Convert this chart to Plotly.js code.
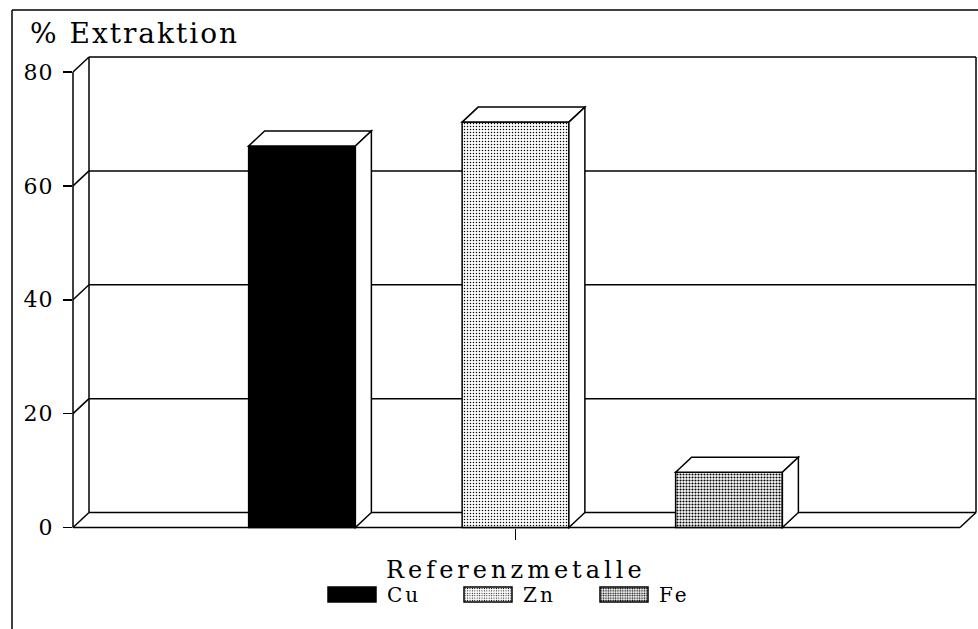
<!DOCTYPE html>
<html><head><meta charset="utf-8">
<script src="https://cdn.plot.ly/plotly-3.0.1.min.js"></script>
<style>
body{margin:0;background:#fff}
#chart{width:978px;height:629px}
.gtitle{letter-spacing:2px}
.annotation-text{letter-spacing:4px}
.legendtext{letter-spacing:3px}
.ytick text{letter-spacing:1px}
</style></head><body><div id="chart"></div>
<script>
// ---- data ----
const metals = ['Cu', 'Zn', 'Fe'];
const extraction = [67.0, 71.2, 9.7];
const yTicks = [0, 20, 40, 60, 80];
const yTickLabels = ['0', '20', '40', '60', '80'];
const xTitle = 'Referenzmetalle';
const yTitle = '% Extraktion';

// ---- geometry / style ----
const W = 978, H = 629, M = {l: 73, r: 0, t: 50, b: 84};
const plotW = W - M.l - M.r, plotH = H - M.t - M.b;
const xUnitPx = 213.5, xZeroPx = 302;
const yZeroPx = 527.5, yTopPx = 72, yTopVal = 80;
const yUnitPx = (yZeroPx - yTopPx) / yTopVal;
const xRange = [(M.l - xZeroPx) / xUnitPx, (W - M.r - xZeroPx) / xUnitPx];
const yRange = [-(H - M.b - yZeroPx) / yUnitPx, (yZeroPx - M.t) / yUnitPx];
const barW = 0.5;
const DXpx = 16, DYpx = 15;
const dx = DXpx / xUnitPx, dy = DYpx / yUnitPx;
const backRight = xRange[1] - 2 / xUnitPx;
const frontRight = backRight - dx;
const dxPaper = DXpx / plotW;
const pX = px => (px - M.l) / plotW;
const pY = py => (H - M.b - py) / plotH;
const LINE = {color: '#000', width: 1.5};

const patterns = [
  null,
  {shape: '.', bgcolor: '#fff', fgcolor: '#000', size: 3, solidity: 0.2},
  {shape: '.', bgcolor: '#fff', fgcolor: '#000', size: 3, solidity: 0.38}
];
const colors = ['#000', '#fff', '#fff'];

const traces = metals.map((m, i) => {
  const t = {
    type: 'bar', name: m, x: [i], y: [extraction[i]], width: barW,
    marker: {color: colors[i], line: {color: '#000', width: 1.5}},
    hoverinfo: 'name+y'
  };
  if (patterns[i]) t.marker.pattern = patterns[i];
  return t;
});

const shapes = [];
// outer frame
shapes.push({type: 'line', xref: 'paper', yref: 'paper', x0: pX(12), x1: pX(12), y0: pY(10), y1: pY(660), line: LINE});
shapes.push({type: 'line', xref: 'paper', yref: 'paper', x0: pX(12), x1: pX(1000), y0: pY(10), y1: pY(10), line: LINE});
// left wall
shapes.push({type: 'line', xref: 'paper', yref: 'y', x0: 0, x1: 0, y0: 0, y1: yTicks[yTicks.length - 1], line: LINE, layer: 'below'});
shapes.push({type: 'line', xref: 'paper', yref: 'y', x0: dxPaper, x1: dxPaper, y0: dy, y1: yTicks[yTicks.length - 1] + dy, line: LINE, layer: 'below'});
yTicks.forEach(v => {
  shapes.push({type: 'line', xref: 'paper', yref: 'y', x0: 0, x1: dxPaper, y0: v, y1: v + dy, line: LINE, layer: 'below'});
  // back wall gridlines
  shapes.push({type: 'line', xref: 'x', yref: 'y', x0: xRange[0] + dx, x1: backRight, y0: v + dy, y1: v + dy, line: LINE, layer: 'below'});
});
// back right edge
shapes.push({type: 'line', xref: 'x', yref: 'y', x0: backRight, x1: backRight, y0: dy, y1: yTicks[yTicks.length - 1] + dy, line: LINE, layer: 'below'});
// floor front + right diagonal
shapes.push({type: 'line', xref: 'x', yref: 'y', x0: xRange[0], x1: frontRight, y0: 0, y1: 0, line: LINE, layer: 'below'});
shapes.push({type: 'line', xref: 'x', yref: 'y', x0: frontRight, x1: backRight, y0: 0, y1: dy, line: LINE, layer: 'below'});
// bar 3D faces
metals.forEach((m, i) => {
  const xl = i - barW / 2, xr = i + barW / 2, v = extraction[i];
  shapes.push({type: 'path', xref: 'x', yref: 'y', layer: 'above', fillcolor: '#fff', line: LINE,
    path: `M${xl},${v}L${xr},${v}L${xr + dx},${v + dy}L${xl + dx},${v + dy}Z`});
  shapes.push({type: 'path', xref: 'x', yref: 'y', layer: 'above', fillcolor: '#fff', line: LINE,
    path: `M${xr},0L${xr},${v}L${xr + dx},${v + dy}L${xr + dx},${dy}Z`});
});

const FONT = 'DejaVu Serif, serif';
const layout = {
  width: W, height: H,
  margin: {l: M.l, r: M.r, t: M.t, b: M.b, autoexpand: false},
  paper_bgcolor: '#fff', plot_bgcolor: 'rgba(0,0,0,0)',
  font: {family: FONT, color: '#000'},
  barmode: 'overlay',
  showlegend: true,
  title: {text: yTitle, xref: 'container', yref: 'container', x: 30 / W, xanchor: 'left',
          y: 1 - 33 / H, yanchor: 'middle', font: {family: FONT, size: 28, color: '#000'}},
  xaxis: {range: xRange, anchor: 'free', position: pY(yZeroPx), showgrid: false, zeroline: false, showline: false,
          tickvals: [(metals.length - 1) / 2], ticktext: [''], ticks: 'outside', ticklen: 11, tickwidth: 1.5, tickcolor: '#000',
          showticklabels: false},
  yaxis: {range: yRange, showgrid: false, zeroline: false, showline: false,
          tickvals: yTicks, ticktext: yTickLabels, ticks: 'outside', ticklen: 9, tickwidth: 1.5, tickcolor: '#000',
          tickfont: {family: FONT, size: 22, color: '#000'}, ticklabelstandoff: 5},
  annotations: [{text: xTitle, xref: 'x', yref: 'paper', x: (metals.length - 1) / 2, y: pY(570), xanchor: 'center', yanchor: 'middle',
                 showarrow: false, font: {family: FONT, size: 24, color: '#000'}}],
  legend: {orientation: 'h', x: pX(317), xanchor: 'left', y: pY(594.5), yanchor: 'middle',
           font: {family: FONT, size: 20, color: '#000'}, itemwidth: 60, entrywidth: 61, entrywidthmode: 'pixels',
           bgcolor: 'rgba(0,0,0,0)', traceorder: 'normal'},
  shapes: shapes
};

Plotly.newPlot('chart', traces, layout, {staticPlot: true}).then(gd => {
  document.querySelectorAll('.legend .legendpoints path').forEach(p => {
    p.setAttribute('d', 'M24,7.5H-24V-7.5H24Z');
  });
});
</script></body></html>
